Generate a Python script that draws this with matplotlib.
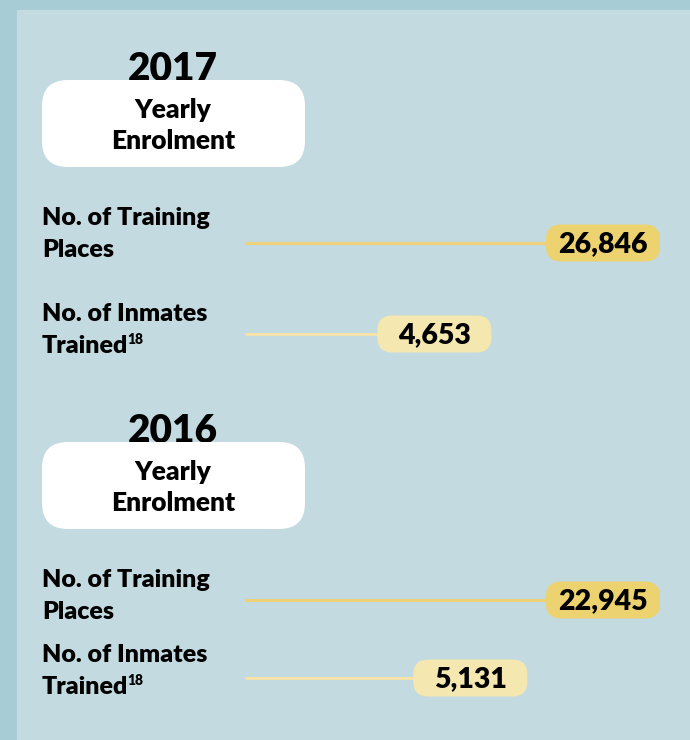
import matplotlib
matplotlib.use("Agg")
import matplotlib.pyplot as plt
from matplotlib.patches import FancyBboxPatch, Rectangle

# datos
years = [2017, 2016]
training_places = [26846, 22945]
inmates_trained = [4653, 5131]
header_lines = ["Yearly", "Enrolment"]
places_label = ["No. of Training", "Places"]
inmates_label = ["No. of Inmates", "Trained"]
footnote = "18"

# colores
BORDER = "#a8ccd5"
PANEL = "#c3dae0"
GOLD = "#edd36f"
GOLD_LINE = "#edd27a"
PALE = "#f5e7b0"
PALE_LINE = "#f3e3a8"

FONT = "Lato"
WEIGHT = "heavy"

# escala: posicion del borde izquierdo de la pastilla (px) segun el valor
X_OFFSET = 27
PX_PER_UNIT = 0.0753
X_MAX = 546
LINE_X0 = 245
PILL_W = 114
PILL_H = 37

def pill_left(v):
    return min(X_OFFSET + v * PX_PER_UNIT, X_MAX)

# desplazamientos verticales por bloque
header_dy = [0, 362]
places_text_dy = [0, 362]
places_line_y = [243, 600]
inmates_text_dy = [0, 341]
inmates_line_y = [334, 678]

fig = plt.figure(figsize=(6.9, 7.4), dpi=100, facecolor=BORDER)
ax = fig.add_axes([0, 0, 1, 1])
ax.set_xlim(0, 690)
ax.set_ylim(740, 0)
ax.axis("off")

ax.add_patch(Rectangle((17, 10), 690 - 17, 740 - 10, color=PANEL, zorder=0))

def draw_pill(v, y, fill, line_color):
    left = pill_left(v)
    ax.plot([LINE_X0, left + 5], [y, y], color=line_color, lw=2.2,
            solid_capstyle="butt", zorder=1)
    ax.add_patch(FancyBboxPatch((left, y - PILL_H / 2), PILL_W, PILL_H,
                                boxstyle="round,pad=0,rounding_size=15",
                                fc=fill, ec="none", zorder=2))
    ax.text(left + PILL_W / 2, y + 9.5, f"{v:,}", ha="center", va="baseline",
            fontsize=20.5, fontweight=WEIGHT, family=FONT, color="black", zorder=3)

renderer = fig.canvas.get_renderer()

for i, year in enumerate(years):
    dy = header_dy[i]
    # anio y recuadro blanco
    ax.text(173, 81 + dy, str(year), ha="center", va="baseline", fontsize=28,
            fontweight=WEIGHT, family=FONT, color="black", zorder=1)
    ax.add_patch(FancyBboxPatch((42, 80 + dy), 263, 87,
                                boxstyle="round,pad=0,rounding_size=26",
                                fc="white", ec="none", zorder=2))
    for j, s in enumerate(header_lines):
        ax.text(173, 118 + dy + 31 * j, s, ha="center", va="baseline",
                fontsize=19, fontweight=WEIGHT, family=FONT, zorder=3)

    # etiquetas
    dp = places_text_dy[i]
    for j, s in enumerate(places_label):
        ax.text(42, 225 + dp + 32 * j, s, ha="left", va="baseline",
                fontsize=18, fontweight=WEIGHT, family=FONT)
    di = inmates_text_dy[i]
    ax.text(42, 321 + di, inmates_label[0], ha="left", va="baseline",
            fontsize=18, fontweight=WEIGHT, family=FONT)
    t = ax.text(42, 353 + di, inmates_label[1], ha="left", va="baseline",
                fontsize=18, fontweight=WEIGHT, family=FONT)
    bb = t.get_window_extent(renderer)
    x_end = ax.transData.inverted().transform((bb.x1, bb.y0))[0]
    ax.text(x_end - 1, 344 + di, footnote, ha="left", va="baseline",
            fontsize=10, fontweight=WEIGHT, family=FONT)

    draw_pill(training_places[i], places_line_y[i], GOLD, GOLD_LINE)
    draw_pill(inmates_trained[i], inmates_line_y[i], PALE, PALE_LINE)

fig.savefig("out.png", dpi=100, facecolor=BORDER)
